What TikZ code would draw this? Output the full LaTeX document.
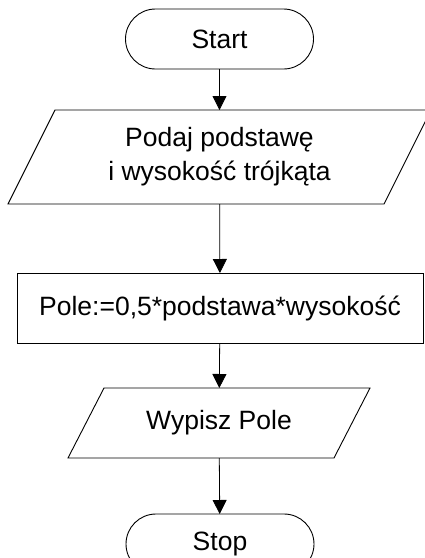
\documentclass[tikz,border=0pt]{standalone}
\usepackage{fontspec}
\setmainfont{Liberation Sans}
\usetikzlibrary{arrows.meta,shapes.misc}
\begin{document}
\begin{tikzpicture}[x=1pt,y=-1pt,
  every node/.style={font=\fontsize{26.5}{34}\selectfont, text=black},
  terminal/.style={rounded rectangle, draw=black, line width=0.9pt, minimum width=188pt, minimum height=60pt, inner sep=0pt, outer sep=0pt},
  procbox/.style={rectangle, draw=black, line width=0.9pt, minimum width=406pt, minimum height=70pt, inner sep=0pt, outer sep=0pt},
  iobox/.style={rectangle, draw=none, inner sep=0pt, outer sep=0pt, align=center},
  outline/.style={draw=black, line width=0.9pt, line join=miter},
  flow/.style={draw=black, line width=0.8pt, -{Triangle[length=14pt,width=14pt]}}
]
\useasboundingbox (0,0) rectangle (425,558);
\node[terminal] (start) at (219.5,39) {Start};
\node[iobox, minimum width=423pt, minimum height=94pt] (in) at (219.5,157) {Podaj podstawę\\ i wysokość trójkąta};
\draw[outline] (in.south west) -- ([xshift=47pt]in.north west) -- (in.north east) -- ([xshift=-47pt]in.south east) -- cycle;
\node[procbox] (calc) at (220,308) {Pole:=0,5*podstawa*wysokość};
\node[iobox, minimum width=302pt, minimum height=70pt] (out) at (219,423) {Wypisz Pole};
\draw[outline] (out.south west) -- ([xshift=36pt]out.north west) -- (out.north east) -- ([xshift=-36pt]out.south east) -- cycle;
\node[terminal] (stop) at (220,544) {Stop};
\draw[flow] (start) -- (in);
\draw[flow] (in) -- (calc);
\draw[flow] (calc) -- (out);
\draw[flow] (out) -- (stop);
\end{tikzpicture}
\end{document}
